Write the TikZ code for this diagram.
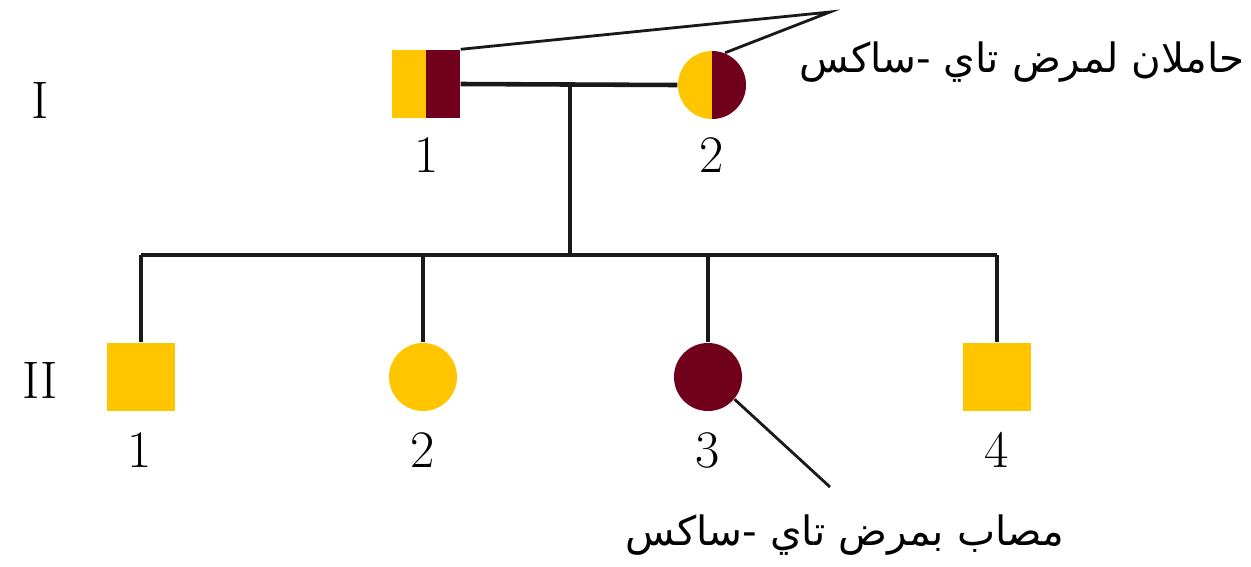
\documentclass[tikz,border=0pt]{standalone}
\usepackage{fontspec}
\usepackage{tikz}
\usetikzlibrary{calc}
\newfontfamily\arabicfont[Script=Arabic]{DejaVu Sans}
\TeXXeTstate=1
\definecolor{tsyellow}{RGB}{255,198,0}
\definecolor{tsred}{RGB}{112,0,28}

\begin{document}
\begin{tikzpicture}[x=0.01cm, y=-0.01cm,
        male/.style={rectangle, inner sep=0pt, minimum size=0.68cm},
        female/.style={circle, inner sep=0pt, minimum size=0.68cm},
        carrier/.style={path picture={
            \fill[tsyellow] (path picture bounding box.south west) rectangle (path picture bounding box.north);
            \fill[tsred] (path picture bounding box.south) rectangle (path picture bounding box.north east);}},
        line/.style={line width=1.3pt, draw=black!90},
        leader/.style={line width=0.8pt, draw=black!90},
        num/.style={font=\fontsize{15}{18}\selectfont},
        arlabel/.style={inner sep=0pt, font=\fontsize{11.5}{14}\selectfont\arabicfont}
      ]
      \useasboundingbox (0,0) rectangle (1251,566);
      % generation I
      \node[male, carrier] (f1) at (426,84) {};
      \node[female, carrier] (f2) at (712,85) {};
      \node[num] (n1) at (427,155) {1};
      \node[num] (n2) at (712,155) {2};
      % generation II
      \node[male, fill=tsyellow] (c1) at (141,377) {};
      \node[female, fill=tsyellow] (c2) at (423,377) {};
      \node[female, fill=tsred] (c3) at (708,377) {};
      \node[male, fill=tsyellow] (c4) at (997,377) {};
      \foreach \i/\x in {1/140,2/423,3/708,4/997}
        \node[num] (m\i) at (\x,450) {\i};
      \node[num] (gI) at (40,100) {I};
      \node[num] (gII) at (40,380) {II};
      % lines
      \coordinate (mate) at (570,85);
      \coordinate (sib) at (570,255);
      \draw[line] (f1.east) -- (f2.west);
      \draw[line] (mate) -- (sib);
      \draw[line] (c1 |- sib) -- (c4 |- sib);
      \foreach \c in {c1,c2,c3,c4}
        \draw[line] (\c |- sib) -- (\c.north);
      % labels
      \coordinate (ctip) at (830,12);
      \coordinate (atip) at (830,487);
      \node[arlabel] (clabel) at (1022,62) {\beginR حاملان لمرض تاي -ساكس\endR};
      \node[arlabel] (alabel) at (845,535) {\beginR مصاب بمرض تاي -ساكس\endR};
      \draw[leader] (f1.north east) -- (ctip) -- (f2.68);
      \draw[leader] (c3.-40) -- (atip);
    \end{tikzpicture}
\end{document}
